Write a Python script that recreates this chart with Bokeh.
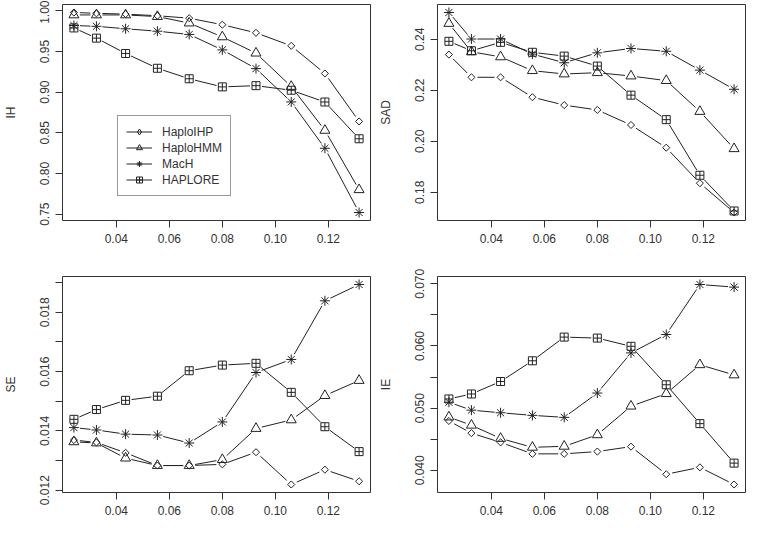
import math
import numpy as np
from bokeh.plotting import figure
from bokeh.models import Range1d, FixedTicker, CustomJSTickFormatter, Legend, LegendItem, ColumnDataSource
from bokeh.layouts import column, row
from bokeh.embed import file_html
from bokeh.resources import INLINE

# ---------------- data ----------------
mr = [0.024, 0.0325, 0.0435, 0.0555, 0.0675, 0.080, 0.0927, 0.106, 0.1187, 0.1316]
methods = ["HaploIHP", "HaploHMM", "MacH", "HAPLORE"]

ih_haploihp = [0.998, 0.997, 0.996, 0.994, 0.991, 0.983, 0.973, 0.957, 0.923, 0.864]
ih_haplohmm = [0.995, 0.995, 0.995, 0.993, 0.985, 0.968, 0.948, 0.907, 0.853, 0.780]
ih_mach = [0.982, 0.981, 0.978, 0.975, 0.971, 0.952, 0.929, 0.888, 0.831, 0.752]
ih_haplore = [0.979, 0.9665, 0.9476, 0.9294, 0.9165, 0.9065, 0.908, 0.9024, 0.8879, 0.8427]

sad_haploihp = [0.234, 0.2251, 0.2251, 0.2173, 0.2142, 0.2123, 0.2064, 0.1975, 0.1836, 0.1721]
sad_haplohmm = [0.2462, 0.2351, 0.2331, 0.2277, 0.2264, 0.2269, 0.2256, 0.2238, 0.2117, 0.1971]
sad_mach = [0.2505, 0.2401, 0.2401, 0.2342, 0.2308, 0.2347, 0.2364, 0.2353, 0.2279, 0.2204]
sad_haplore = [0.2392, 0.2355, 0.2388, 0.2349, 0.2334, 0.2295, 0.2181, 0.2085, 0.1867, 0.1727]

se_haploihp = [0.01369, 0.01361, 0.01326, 0.01283, 0.01283, 0.01287, 0.01328, 0.01219, 0.01269, 0.01230]
se_haplohmm = [0.01363, 0.01359, 0.01308, 0.01283, 0.01283, 0.01303, 0.01408, 0.01437, 0.01519, 0.01570]
se_mach = [0.01411, 0.01403, 0.01389, 0.01386, 0.01359, 0.01430, 0.01597, 0.01641, 0.01839, 0.01894]
se_haplore = [0.01439, 0.01472, 0.01503, 0.01517, 0.01603, 0.01622, 0.01628, 0.01530, 0.01414, 0.01330]

ie_haploihp = [0.04794, 0.04598, 0.04450, 0.04265, 0.04265, 0.04302, 0.04381, 0.03937, 0.04048, 0.03772]
ie_haplohmm = [0.04857, 0.04725, 0.04513, 0.04370, 0.04386, 0.04571, 0.05032, 0.05233, 0.05698, 0.05534]
ie_mach = [0.05095, 0.04968, 0.04926, 0.04884, 0.04852, 0.05243, 0.05889, 0.06185, 0.06989, 0.06947]
ie_haplore = [0.05148, 0.05228, 0.05429, 0.05762, 0.06143, 0.06127, 0.05995, 0.05376, 0.04751, 0.04116]

x_ticks = [0.04, 0.06, 0.08, 0.10, 0.12]
ih_ticks = [0.75, 0.80, 0.85, 0.90, 0.95, 1.00]
sad_ticks = [0.18, 0.20, 0.22, 0.24]
se_ticks = [0.012, 0.013, 0.014, 0.015, 0.016, 0.017, 0.018, 0.019]
ie_ticks = [0.040, 0.045, 0.050, 0.055, 0.060, 0.065, 0.070]

# ---------------- styling ----------------
FONT = "Liberation Sans"
TXT = "#333333"
INK = "#222222"
markers = [
    dict(marker="square", size=5, angle=math.pi / 4, legend="diamond"),
    dict(marker="triangle", size=10, angle=0.0, legend="triangle"),
    dict(marker="asterisk", size=10, angle=0.0, legend="asterisk"),
    dict(marker="square_cross", size=8, angle=0.0, legend="square_cross"),
]


def rrange(vals):
    lo, hi = min(vals), max(vals)
    pad = 0.04 * (hi - lo)
    return lo - pad, hi + pad


def gapped(x, y, xr, yr, fw, fh, g=6.0):
    sx = fw / (xr[1] - xr[0])
    sy = fh / (yr[1] - yr[0])
    x0, y0, x1, y1 = [], [], [], []
    for i in range(len(x) - 1):
        dx = (x[i + 1] - x[i]) * sx
        dy = (y[i + 1] - y[i]) * sy
        L = math.hypot(dx, dy)
        if L <= 2 * g:
            continue
        t = g / L
        x0.append(x[i] + t * (x[i + 1] - x[i]))
        y0.append(y[i] + t * (y[i + 1] - y[i]))
        x1.append(x[i + 1] - t * (x[i + 1] - x[i]))
        y1.append(y[i + 1] - t * (y[i + 1] - y[i]))
    return dict(x0=x0, y0=y0, x1=x1, y1=y1)


def fmt(scale, m, d):
    return CustomJSTickFormatter(code=f"""
        const k = Math.round(tick * {scale});
        return (k % {m} === 0) ? tick.toFixed({d}) : '';
    """)


def panel(ylabel, series, yticks, yfmt, bl, br, bt, bb, fw, fh, legend=False):
    xr = rrange(mr)
    yr = rrange([v for s in series for v in s])
    p = figure(width=bl + fw + br, height=bt + fh + bb,
               min_border_left=bl, min_border_right=br, min_border_top=bt, min_border_bottom=bb,
               x_range=Range1d(*xr), y_range=Range1d(*yr),
               output_backend="svg", toolbar_location=None)
    p.background_fill_color = "white"
    p.border_fill_color = "white"
    p.outline_line_color = TXT
    p.outline_line_width = 1
    p.outline_line_alpha = 1
    p.grid.visible = False

    items = []
    for name, vals, mk in zip(methods, series, markers):
        seg = p.segment(x0="x0", y0="y0", x1="x1", y1="y1",
                        source=ColumnDataSource(gapped(mr, vals, xr, yr, fw, fh)),
                        line_color=INK, line_width=1)
        p.scatter(x=mr, y=vals, marker=mk["marker"], size=mk["size"], angle=mk["angle"],
                  fill_color=None, line_color=INK, line_width=1)
        if legend:
            # legend-only glyph (no drawable point in the plot area)
            lr = p.scatter(x=[float("nan")], y=[float("nan")], marker=mk["legend"], size=8,
                           fill_color=None, line_color=INK, line_width=1)
            items.append(LegendItem(label=name, renderers=[seg, lr]))

    for ax in (p.xaxis[0], p.yaxis[0]):
        ax.axis_line_color = None
        ax.major_tick_line_color = TXT
        ax.major_tick_in = 0
        ax.major_tick_out = 7
        ax.minor_tick_line_color = None
        ax.major_label_text_font = FONT
        ax.major_label_text_font_size = "12px"
        ax.major_label_text_color = TXT
        ax.major_label_standoff = 6

    p.xaxis[0].ticker = FixedTicker(ticks=x_ticks)
    p.xaxis[0].formatter = fmt(100, 1, 2)
    p.yaxis[0].ticker = FixedTicker(ticks=yticks)
    p.yaxis[0].formatter = yfmt
    p.yaxis[0].major_label_orientation = "vertical"
    p.yaxis[0].axis_label = ylabel
    p.yaxis[0].axis_label_text_font = FONT
    p.yaxis[0].axis_label_text_font_size = "12px"
    p.yaxis[0].axis_label_text_font_style = "normal"
    p.yaxis[0].axis_label_text_color = TXT
    p.yaxis[0].axis_label_standoff = 20

    if legend:
        lg = Legend(items=items, location=(55, 24))
        lg.border_line_color = TXT
        lg.border_line_width = 1
        lg.background_fill_color = "white"
        lg.background_fill_alpha = 1
        lg.label_text_font = FONT
        lg.label_text_font_size = "12px"
        lg.label_text_color = TXT
        lg.glyph_width = 26
        lg.glyph_height = 15
        lg.label_height = 15
        lg.spacing = 1
        lg.padding = 8
        lg.margin = 0
        lg.label_standoff = 10
        p.add_layout(lg)
    return p


FW = 308
p1 = panel("IH", [ih_haploihp, ih_haplohmm, ih_mach, ih_haplore], ih_ticks, fmt(100, 1, 2),
           62, 5, 4, 28, FW, 216, legend=True)
p2 = panel("SAD", [sad_haploihp, sad_haplohmm, sad_mach, sad_haplore], sad_ticks, fmt(100, 1, 2),
           62, 3, 4, 28, FW, 216)
p3 = panel("SE", [se_haploihp, se_haplohmm, se_mach, se_haplore], se_ticks, fmt(1000, 2, 3),
           62, 5, 28, 30, FW, 216)
p4 = panel("IE", [ie_haploihp, ie_haplohmm, ie_mach, ie_haplore], ie_ticks, fmt(1000, 10, 3),
           62, 3, 28, 30, FW, 216)

layout = column(row(p1, p2), row(p3, p4))
open("out.html", "w").write(file_html(layout, INLINE))
